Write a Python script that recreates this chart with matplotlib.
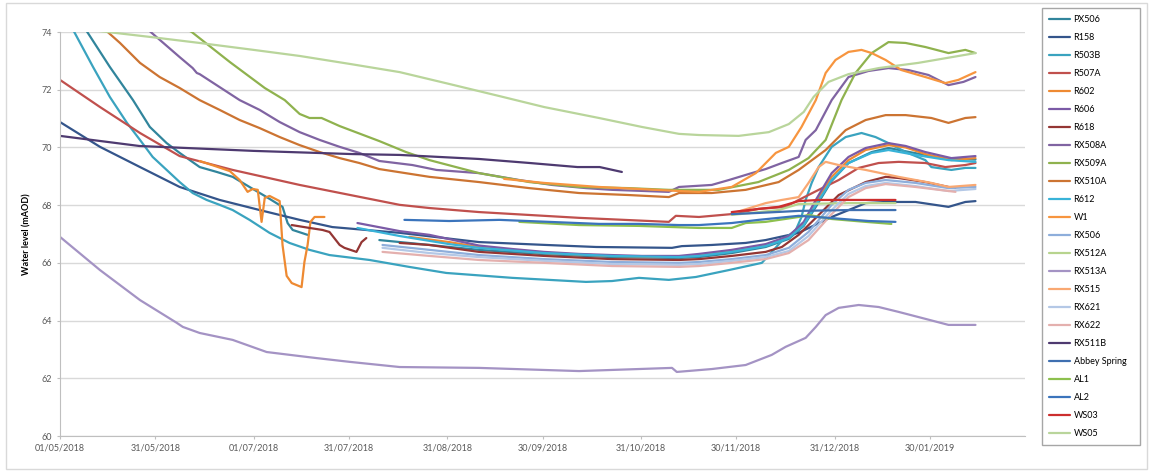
import numpy as np
import pandas as pd
import matplotlib
matplotlib.use('Agg')
import matplotlib.pyplot as plt
from matplotlib.patches import Rectangle

plt.rcParams['font.family'] = ['Lato', 'DejaVu Sans']

nan = np.nan
start = pd.Timestamp('2018-05-01')

# tick labels (Excel date axis)
tick_labels = ['01/05/2018', '31/05/2018', '01/07/2018', '31/07/2018', '31/08/2018',
               '30/09/2018', '31/10/2018', '30/11/2018', '31/12/2018', '30/01/2019']
y_ticks = [60, 62, 64, 66, 68, 70, 72, 74]

# series: days since 01/05/2018, water level (mAOD)
px506_days = [8, 15.7, 23, 28.3, 33.6, 37.7, 44, 49.4, 54.4, 59.7, 65.1, 70.1, 71.7, 73.3, 78, 80,
              100.6, 116.4, 132, 152.5, 173.9, 195, 201.3, 211.6, 222.3, 229.6, 234.3, 238.1, 243.1,
              248.4, 255.7, 261, 269.5, 279.9, 288.4]
px506_lvl = [74.1, 72.79, 71.64, 70.71, 70.15, 69.81, 69.32, 69.15, 68.98, 68.63, 68.28, 67.94, 67.38,
             67.14, 66.97, nan,
             66.79, 66.62, 66.45, 66.30, 66.20, 66.17, 66.20, 66.34, 66.55, 66.83, 67.28, 67.94, 68.84,
             69.46, 69.84, 69.98, 69.80, 69.60, 69.58]

r158_days = [0, 12.6, 25.2, 37.7, 50.3, 62.9, 75.5, 85.8, 107, 132, 153.1, 168.9, 192.8, 195.9, 205.3,
             216, 222.3, 232.7, 243.1, 253.8, 260.1, 269.5, 279.9, 285.2, 288.4]
r158_lvl = [70.88, 70.02, 69.32, 68.63, 68.18, 67.83, 67.49, 67.24, 67.04, 66.72, 66.62, 66.55, 66.52,
            66.58, 66.62, 66.69, 66.79, 67.04, 67.59, 68.07, 68.11, 68.11, 67.94, 68.11, 68.14]

r503b_days = [4, 10.4, 15.7, 21.1, 25.2, 29.2, 33.6, 37.7, 41.8, 46.2, 50.3, 54.4, 59.7, 66, 72.3, 78.6,
              84.9, 97.5, 110, 121.7, 142.5, 165.7, 173.9, 182.4, 191.8, 200.3, 210.7, 221.1, 227.4,
              231.8, 233.6, 234.9, 236.8, 239, 243.1, 247.5, 252.5, 256.9, 261, 266.4, 272.6, 274.5,
              280.8, 285.2, 288.4]
r503b_lvl = [74.1, 72.79, 71.75, 70.85, 70.26, 69.67, 69.22, 68.80, 68.42, 68.18, 68.01, 67.83, 67.49,
             67.04, 66.69, 66.45, 66.27, 66.10, 65.86, 65.65, 65.48, 65.34, 65.37, 65.48, 65.41, 65.51,
             65.75, 66.00, 66.76, 67.14, 67.59, 68.18, 68.77, 69.32, 70.02, 70.36, 70.50, 70.36, 70.15,
             69.84, 69.56, 69.32, 69.22, 69.29, 69.29]

r507a_days = [0, 12.6, 25.2, 37.7, 54.4, 75.5, 107, 116.4, 132, 163.5, 191.8, 194, 201.3, 211.6, 220.1,
              228.6, 232.7, 239, 245.3, 251.6, 257.9, 264.2, 272.6, 278.9, 285.2, 288.4]
r507a_lvl = [72.34, 71.40, 70.50, 69.70, 69.22, 68.70, 68.01, 67.90, 67.76, 67.56, 67.42, 67.63, 67.59,
             67.69, 67.87, 67.94, 68.18, 68.53, 68.87, 69.29, 69.46, 69.50, 69.46, 69.32, 69.39, 69.46]

r602_days = [44, 48.7, 53.5, 56.6, 59.1, 60.7, 62.3, 63.5, 64.5, 66, 69.2, 70.1, 71.4, 73, 76.1, 77, 78,
             78.9, 80.2, 83.3, 90,
             110, 122.6, 132, 152.5, 173.9, 195, 201.3, 211.6, 222.3, 229.6, 234.3, 238.1, 243.1, 248.4,
             253.8, 261, 266.4, 272.6, 280.8, 288.4]
r602_lvl = [69.53, 69.36, 69.18, 68.87, 68.46, 68.56, 68.53, 67.42, 68.25, 68.32, 68.14, 66.62, 65.55,
            65.30, 65.16, 66.03, 66.62, 67.42, 67.59, 67.59, nan,
            66.90, 66.72, 66.55, 66.34, 66.24, 66.20, 66.27, 66.41, 66.62, 66.90, 67.35, 68.07, 68.98,
            69.56, 69.91, 70.08, 70.00, 69.77, 69.56, 69.63]

r606_days = [93.7, 107, 116.4, 132, 142.5, 152.5, 163.5, 173.9, 183.3, 195, 201.3, 211.6, 222.3, 229.6,
             234.3, 238.1, 243.1, 248.4, 253.8, 261, 266.4, 272.6, 280.8, 288.4]
r606_lvl = [67.38, 67.10, 66.97, 66.60, 66.48, 66.38, 66.31, 66.27, 66.24, 66.24, 66.31, 66.45, 66.65,
            66.93, 67.42, 68.18, 69.11, 69.67, 69.98, 70.15, 70.05, 69.84, 69.63, 69.70]

r618_days = [73, 78.6, 82.7, 84.9, 88.1, 89.6, 93.4, 95, 96.5, 100,
             107, 116.4, 132, 152.5, 173.9, 195, 201.3, 211.6, 222.3, 227.4, 232.7, 238.1, 245.3, 253.8,
             260.1, 264.2, 272.6, 279.9, 282]
r618_lvl = [67.31, 67.21, 67.14, 67.07, 66.62, 66.52, 66.38, 66.72, 66.86, nan,
            66.69, 66.62, 66.38, 66.24, 66.13, 66.10, 66.13, 66.24, 66.38, 66.55, 66.97, 67.56, 68.35,
            68.80, 68.98, 68.94, 68.80, 68.63, 68.60]

rx508a_days = [27, 37.7, 41.8, 43.1, 44, 50.3, 56.6, 62.9, 69.2, 75.5, 81.8, 88.1, 94.3, 100.6, 111,
               118.6, 132, 144.7, 155, 165.7, 173.9, 191.8, 195, 205.3, 210.7, 217.9, 222.3, 227.4,
               232.7, 234.9, 238.1, 243.1, 248.4, 254.7, 261, 267.3, 273.6, 279.9, 284.6, 288.4]
rx508a_lvl = [74.15, 73.13, 72.75, 72.58, 72.54, 72.09, 71.64, 71.30, 70.88, 70.53, 70.26, 70.02, 69.81,
              69.53, 69.39, 69.22, 69.11, 68.87, 68.70, 68.59, 68.53, 68.46, 68.63, 68.70, 68.87, 69.11,
              69.25, 69.46, 69.67, 70.26, 70.60, 71.64, 72.44, 72.65, 72.75, 72.68, 72.51, 72.16, 72.27,
              72.44]

rx509a_days = [38, 41.5, 53.5, 64.5, 70.8, 75.5, 78.6, 82.4, 88.1, 100.6, 109, 116.4, 132, 147.8, 163.5,
               179.2, 191.8, 207.5, 220, 229.6, 235.8, 241.2, 246.2, 250.6, 255.7, 261, 266.4, 272.6,
               279.9, 285.2, 288.4]
rx509a_lvl = [74.2, 74.0, 72.96, 72.06, 71.64, 71.16, 71.02, 71.02, 70.74, 70.22, 69.84, 69.56, 69.11,
              68.80, 68.63, 68.59, 68.53, 68.53, 68.80, 69.22, 69.63, 70.26, 71.64, 72.58, 73.27, 73.65,
              73.62, 73.48, 73.27, 73.38, 73.27]

rx510a_days = [14, 18.9, 25.2, 31.4, 37.7, 44, 50.3, 56.6, 62.9, 69.2, 75.5, 81.8, 88.1, 94.3, 100.6,
               116.4, 132, 147.8, 163.5, 179.2, 191.8, 195, 205.3, 216, 226.4, 232.7, 241.2, 247.5,
               253.8, 260.1, 266.4, 274.5, 279.9, 285.2, 288.4]
rx510a_lvl = [74.1, 73.62, 72.93, 72.44, 72.06, 71.64, 71.30, 70.95, 70.67, 70.36, 70.08, 69.84, 69.63,
              69.46, 69.25, 68.98, 68.80, 68.59, 68.42, 68.35, 68.28, 68.42, 68.42, 68.53, 68.80, 69.22,
              69.91, 70.60, 70.95, 71.12, 71.12, 71.02, 70.85, 71.02, 71.05]

r612_days = [93.7, 107, 122.6, 132, 152.5, 173.9, 195, 201.3, 211.6, 222.3, 229.6, 234.3, 238.1, 243.1,
             248.4, 255.7, 261, 269.5, 279.9, 288.4]
r612_lvl = [67.21, 66.93, 66.65, 66.52, 66.34, 66.24, 66.20, 66.24, 66.38, 66.58, 66.86, 67.31, 68.01,
            68.87, 69.46, 69.81, 69.91, 69.74, 69.56, 69.50]

w1_days = [139.9, 152.5, 169.8, 182.4, 195, 201.3, 211.6, 219.2, 225.5, 229.6, 233.6, 238.1, 241.2,
           244.3, 248.4, 252.5, 255.7, 260.1, 265.1, 272.6, 278.9, 283, 288.4]
w1_lvl = [68.91, 68.77, 68.63, 68.56, 68.49, 68.46, 68.63, 69.11, 69.81, 70.02, 70.71, 71.64, 72.58,
          73.03, 73.31, 73.38, 73.27, 73.03, 72.68, 72.44, 72.23, 72.34, 72.61]

rx506_days = [101.6, 116.4, 132, 152.5, 173.9, 195, 201.3, 211.6, 222.3, 229.6, 235.8, 243.1, 248.4,
              253.8, 260.1, 269.5, 279.9, 288.4]
rx506_lvl = [66.62, 66.45, 66.27, 66.13, 66.03, 66.00, 66.03, 66.13, 66.27, 66.52, 67.07, 68.01, 68.53,
             68.77, 68.87, 68.77, 68.59, 68.63]

rx512a_days = [211.6, 226.4, 232.7, 248.4, 263.2]
rx512a_lvl = [67.66, 67.83, 68.04, 68.07, 68.07]

rx513a_days = [0, 12.6, 25.2, 36.8, 38.7, 44, 54.4, 65.1, 75.5, 80.8, 91.2, 107, 132, 163.5, 192.8,
               194.3, 205.3, 216, 224.2, 228.6, 234.9, 238.1, 241.2, 245.3, 251.6, 257.9, 264.2, 272.6,
               279.9, 288.4]
rx513a_lvl = [66.90, 65.75, 64.71, 63.92, 63.78, 63.57, 63.33, 62.91, 62.77, 62.70, 62.57, 62.39, 62.36,
              62.25, 62.36, 62.22, 62.32, 62.46, 62.81, 63.09, 63.40, 63.78, 64.19, 64.44, 64.54, 64.47,
              64.30, 64.06, 63.85, 63.85]

rx515_days = [212.3, 222.3, 227.4, 232.7, 235.8, 239, 241.2, 245.3, 253.8, 264.2, 274.5, 279.9, 288.4]
rx515_lvl = [67.73, 68.07, 68.18, 68.28, 68.77, 69.32, 69.50, 69.39, 69.22, 68.98, 68.77, 68.63, 68.70]

rx621_days = [101.6, 116.4, 132, 152.5, 173.9, 195, 201.3, 211.6, 222.3, 229.6, 235.8, 243.1, 248.4,
              253.8, 260.1, 269.5, 279.9, 288.4]
rx621_lvl = [66.52, 66.34, 66.20, 66.07, 65.96, 65.93, 65.96, 66.07, 66.20, 66.41, 66.93, 67.83, 68.39,
             68.66, 68.77, 68.66, 68.49, 68.56]

rx622_days = [101.6, 116.4, 132, 152.5, 173.9, 195, 201.3, 211.6, 222.3, 229.6, 235.8, 243.1, 248.4,
              253.8, 260.1, 269.5, 282.1]
rx622_lvl = [66.38, 66.24, 66.10, 66.00, 65.89, 65.86, 65.89, 66.00, 66.13, 66.34, 66.79, 67.69, 68.28,
             68.59, 68.73, 68.63, 68.46]

rx511b_days = [0, 25, 61, 92, 107, 132, 148, 163, 170, 177]
rx511b_lvl = [70.40, 70.05, 69.88, 69.77, 69.74, 69.60, 69.46, 69.32, 69.32, 69.15]

abbey_days = [211.6, 220.1, 232.7, 248.4, 263.2]
abbey_lvl = [67.69, 67.73, 67.80, 67.83, 67.83]

al1_days = [144.7, 163.5, 182.4, 201.3, 211.6, 216, 222.3, 232.7, 235.8, 243.1, 253.8, 261.9]
al1_lvl = [67.42, 67.31, 67.28, 67.21, 67.21, 67.38, 67.42, 67.59, 67.66, 67.52, 67.42, 67.35]

al2_days = [108.5, 122.6, 138.4, 154.1, 169.8, 182.4, 195, 201.3, 211.6, 220.1, 232.7, 242.1, 254.7, 263.2]
al2_lvl = [67.49, 67.45, 67.49, 67.42, 67.35, 67.35, 67.31, 67.31, 67.38, 67.49, 67.63, 67.56, 67.45, 67.42]

ws03_days = [211.6, 220.1, 226.4, 232.7, 239, 263.2]
ws03_lvl = [67.76, 67.87, 67.94, 68.14, 68.18, 68.18]

ws05_days = [10, 12.6, 28.3, 44, 61, 75.5, 91.5, 107, 122.6, 138.4, 152.5, 169.8, 183.3, 195, 201.3,
             213.8, 223.3, 229.6, 234.3, 237.4, 242.1, 248.4, 257.9, 270.4, 288.4]
ws05_lvl = [74.1, 74.03, 73.83, 73.62, 73.38, 73.17, 72.89, 72.61, 72.20, 71.78, 71.40, 71.02, 70.71,
            70.47, 70.43, 70.40, 70.53, 70.81, 71.23, 71.75, 72.27, 72.54, 72.75, 72.93, 73.27]

series = [
    ('PX506', px506_days, px506_lvl, '#31859C'),
    ('R158', r158_days, r158_lvl, '#34558B'),
    ('R503B', r503b_days, r503b_lvl, '#3AA3BF'),
    ('R507A', r507a_days, r507a_lvl, '#C0504D'),
    ('R602', r602_days, r602_lvl, '#EE8A32'),
    ('R606', r606_days, r606_lvl, '#7B5AA6'),
    ('R618', r618_days, r618_lvl, '#943634'),
    ('RX508A', rx508a_days, rx508a_lvl, '#8064A2'),
    ('RX509A', rx509a_days, rx509a_lvl, '#8FB24E'),
    ('RX510A', rx510a_days, rx510a_lvl, '#CC7432'),
    ('R612', r612_days, r612_lvl, '#38B3D8'),
    ('W1', w1_days, w1_lvl, '#F7953F'),
    ('RX506', rx506_days, rx506_lvl, '#8EAEDB'),
    ('RX512A', rx512a_days, rx512a_lvl, '#B7D48E'),
    ('RX513A', rx513a_days, rx513a_lvl, '#A493C4'),
    ('RX515', rx515_days, rx515_lvl, '#F9A872'),
    ('RX621', rx621_days, rx621_lvl, '#B4C8E6'),
    ('RX622', rx622_days, rx622_lvl, '#E4B0AE'),
    ('RX511B', rx511b_days, rx511b_lvl, '#4E3A70'),
    ('Abbey Spring', abbey_days, abbey_lvl, '#3F6FB0'),
    ('AL1', al1_days, al1_lvl, '#8DC04E'),
    ('AL2', al2_days, al2_lvl, '#3B74BC'),
    ('WS03', ws03_days, ws03_lvl, '#CC2E2E'),
    ('WS05', ws05_days, ws05_lvl, '#B9D59B'),
]

W, H = 1152, 472
fig = plt.figure(figsize=(W / 100, H / 100), dpi=100)
ax = fig.add_axes([60 / W, 1 - 436 / H, 965 / W, 404 / H])

for name, d, v, c in series:
    x = start + pd.to_timedelta(np.array(d, dtype=float), unit='D')
    ax.plot(x, v, color=c, lw=1.6, label=name, solid_capstyle='round')

ax.set_ylim(60, 74)
ax.set_yticks(y_ticks)
ax.set_xlim(start, start + pd.Timedelta(days=304))
ax.set_xticks(pd.to_datetime(tick_labels, format='%d/%m/%Y'))
ax.set_xticklabels(tick_labels)
ax.grid(axis='y', color='#D9D9D9', lw=1)
ax.set_axisbelow(True)
for s in ['top', 'right']:
    ax.spines[s].set_visible(False)
for s in ['left', 'bottom']:
    ax.spines[s].set_color('#BFBFBF')
ax.tick_params(axis='both', labelsize=6.5, colors='#BFBFBF', labelcolor='#595959',
               length=2.5, pad=3)
ax.set_ylabel('Water level (mAOD)', fontsize=6.5, fontweight='bold', color='black')
ax.yaxis.set_label_coords(-0.030, 0.5)

handles, labels = ax.get_legend_handles_labels()
leg = fig.legend(handles, labels, loc='upper left',
                 bbox_to_anchor=(1042 / W, 0, 98 / W, 1 - 8 / H), mode='expand',
                 borderaxespad=0, fontsize=6.5, labelspacing=1.0, handlelength=2.4,
                 handletextpad=0.35, borderpad=0.75, fancybox=False, framealpha=1,
                 edgecolor='#A6A6A6')
leg.get_frame().set_linewidth(1)

fig.add_artist(Rectangle((6 / W, 3 / H), 1141 / W, 466 / H, transform=fig.transFigure,
                         fill=False, edgecolor='#D9D9D9', lw=1))

fig.savefig('out.png', dpi=100)
